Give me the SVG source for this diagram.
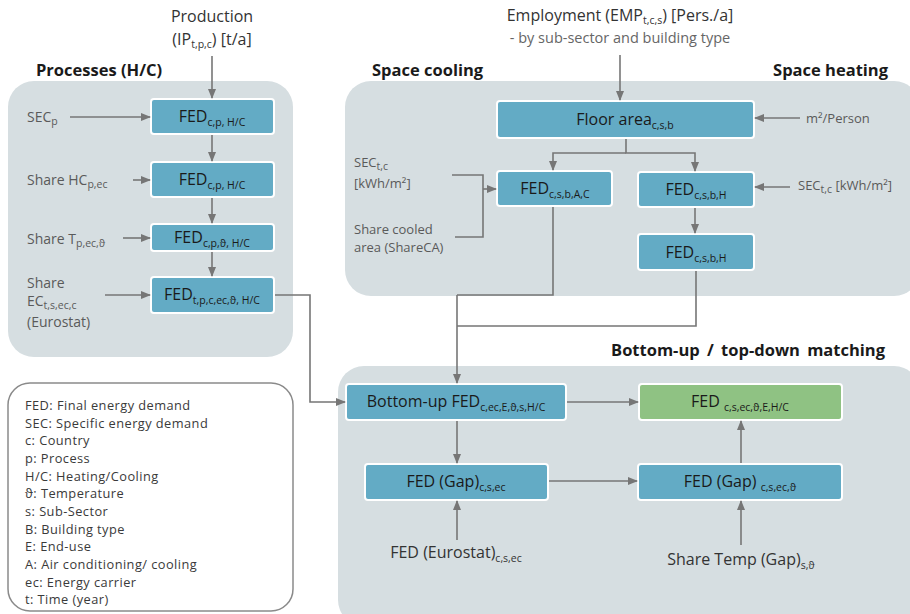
<svg xmlns="http://www.w3.org/2000/svg" width="910" height="614" viewBox="0 0 910 614">
<defs>
<marker id="ah" markerUnits="userSpaceOnUse" markerWidth="10" markerHeight="8" refX="9" refY="4" orient="auto">
<path d="M0,0 L10,4 L0,8 Z" fill="#767676"/>
</marker>
<style>
text{font-family:"Open Sans","Noto Sans","Liberation Sans",sans-serif;}
.panel{fill:#d6dee1;}
.box{fill:#63abc5;stroke:#ffffff;stroke-width:2;}
.green{fill:#8fc283;stroke:#ffffff;stroke-width:2;}
.bt{font-size:16px;fill:#1a1a1a;text-anchor:middle;}
.sub{font-size:10.5px;}
.lbl{font-size:14px;fill:#5a5a5a;}
.top{font-size:16px;fill:#333;text-anchor:middle;}
.head{font-size:16.5px;font-weight:bold;fill:#1a1a1a;}
.leg{font-size:12.8px;letter-spacing:0.45px;fill:#3a3a3a;}
.c{fill:none;stroke:#767676;stroke-width:1.6;}
</style>
</defs>
<rect x="8" y="81" width="285" height="276" rx="26" class="panel"/>
<rect x="345" y="81" width="575" height="215" rx="26" class="panel"/>
<rect x="338" y="366" width="582" height="260" rx="26" class="panel"/>
<rect x="8" y="383" width="285" height="228" rx="22" fill="#ffffff" stroke="#8a8a8a" stroke-width="1.5"/>
<text class="head" x="36" y="76">Processes (H/C)</text>
<text class="head" x="372" y="76">Space cooling</text>
<text class="head" x="888" y="76" text-anchor="end">Space heating</text>
<text class="head" x="885" y="356" text-anchor="end" word-spacing="3">Bottom-up / top-down matching</text>
<g id="production"><text class="top" x="212" y="22">Production</text><text class="top" x="212" y="45">(IP<tspan class="sub" dy="3">t,p,c</tspan><tspan dy="-3">) [t/a]</tspan></text></g>
<g id="employment"><text class="top" x="620" y="21">Employment (EMP<tspan class="sub" dy="3">t,c,s</tspan><tspan dy="-3">) [Pers./a]</tspan></text><text class="top" x="620" y="43" style="font-size:14.5px;fill:#666">- by sub-sector and building type</text></g>
<g id="p1"><rect class="box" x="151" y="99" width="123" height="35" rx="3"/><text class="bt" x="212" y="122">FED<tspan class="sub" dy="4">c,p, H/C</tspan></text></g>
<g id="p2"><rect class="box" x="151" y="162" width="123" height="35" rx="3"/><text class="bt" x="212" y="185">FED<tspan class="sub" dy="4">c,p, H/C</tspan></text></g>
<g id="p3"><rect class="box" x="151" y="224" width="123" height="27" rx="3"/><text class="bt" x="212" y="243">FED<tspan class="sub" dy="4">c,p,ϑ, H/C</tspan></text></g>
<g id="p4"><rect class="box" x="151" y="277" width="123" height="36" rx="3"/><text class="bt" x="212" y="300">FED<tspan class="sub" dy="4">t,p,c,ec,ϑ, H/C</tspan></text></g>
<g id="secp"><text class="lbl" x="27" y="122">SEC<tspan class="sub" dy="3">p</tspan></text></g>
<g id="sharehc"><text class="lbl" x="27" y="185">Share HC<tspan class="sub" dy="3">p,ec</tspan></text></g>
<g id="sharet"><text class="lbl" x="27" y="244">Share T<tspan class="sub" dy="3">p,ec,ϑ</tspan></text></g>
<g id="shareec"><text class="lbl" x="27" y="288">Share</text><text class="lbl" x="27" y="306">EC<tspan class="sub" dy="3">t,s,ec,c</tspan></text><text class="lbl" x="27" y="327">(Eurostat)</text></g>
<g id="floor"><rect class="box" x="497" y="101" width="257" height="37" rx="3"/><text class="bt" x="625" y="125">Floor area<tspan class="sub" dy="4">c,s,b</tspan></text></g>
<g id="m2p"><text class="lbl" x="806" y="123" style="font-size:13px">m²/Person</text></g>
<g id="fedac"><rect class="box" x="497" y="171" width="115" height="35" rx="3"/><text class="bt" x="555" y="194">FED<tspan class="sub" dy="4">c,s,b,A,C</tspan></text></g>
<g id="fedh1"><rect class="box" x="638" y="172" width="116" height="35" rx="3"/><text class="bt" x="696" y="195">FED<tspan class="sub" dy="4">c,s,b,H</tspan></text></g>
<g id="fedh2"><rect class="box" x="638" y="234" width="116" height="36" rx="3"/><text class="bt" x="696" y="258">FED<tspan class="sub" dy="4">c,s,b,H</tspan></text></g>
<g id="secleft"><text class="lbl" x="354" y="167" style="font-size:13px">SEC<tspan class="sub" dy="3">t,c</tspan></text><text class="lbl" x="354" y="188" style="font-size:13px">[kWh/m²]</text></g>
<g id="sharecool"><text class="lbl" x="354" y="234" style="font-size:13px">Share cooled</text><text class="lbl" x="354" y="252" style="font-size:13px">area (ShareCA)</text></g>
<g id="secright"><text class="lbl" x="798" y="190" style="font-size:13px">SEC<tspan class="sub" dy="3">t,c</tspan><tspan dy="-3"> [kWh/m²]</tspan></text></g>
<g id="bottomup"><rect class="box" x="346" y="384" width="220" height="36" rx="3"/><text class="bt" x="456" y="407">Bottom-up FED<tspan class="sub" dy="4">c,ec,E,ϑ,s,H/C</tspan></text></g>
<g id="result"><rect class="green" x="639" y="384" width="203" height="36" rx="3"/><text class="bt" x="740" y="407">FED <tspan class="sub" dy="4">c,s,ec,ϑ,E,H/C</tspan></text></g>
<g id="gap1"><rect class="box" x="365" y="464" width="183" height="36" rx="3"/><text class="bt" x="456" y="487">FED (Gap)<tspan class="sub" dy="4">c,s,ec</tspan></text></g>
<g id="gap2"><rect class="box" x="638" y="464" width="204" height="36" rx="3"/><text class="bt" x="740" y="487">FED (Gap) <tspan class="sub" dy="4">c,s,ec,ϑ</tspan></text></g>
<g id="eurostat"><text class="top" x="456" y="558" style="fill:#333">FED (Eurostat)<tspan class="sub" dy="4">c,s,ec</tspan></text></g>
<g id="sharetemp"><text class="top" x="741" y="565" style="fill:#333">Share Temp (Gap)<tspan class="sub" dy="4">s,ϑ</tspan></text></g>
<g id="legend">
<text class="leg" x="25" y="410">FED: Final energy demand</text>
<text class="leg" x="25" y="428">SEC: Specific energy demand</text>
<text class="leg" x="25" y="445">c: Country</text>
<text class="leg" x="25" y="463">p: Process</text>
<text class="leg" x="25" y="481">H/C: Heating/Cooling</text>
<text class="leg" x="25" y="498">ϑ: Temperature</text>
<text class="leg" x="25" y="516">s: Sub-Sector</text>
<text class="leg" x="25" y="534">B: Building type</text>
<text class="leg" x="25" y="551">E: End-use</text>
<text class="leg" x="25" y="569">A: Air conditioning/ cooling</text>
<text class="leg" x="25" y="587">ec: Energy carrier</text>
<text class="leg" x="25" y="604">t: Time (year)</text>
</g>
<g id="connectors">
<path class="c" d="M212,56 V98" marker-end="url(#ah)"/>
<path class="c" d="M70,117 H150" marker-end="url(#ah)"/>
<path class="c" d="M212,135 V161" marker-end="url(#ah)"/>
<path class="c" d="M133,180 H150" marker-end="url(#ah)"/>
<path class="c" d="M212,198 V223" marker-end="url(#ah)"/>
<path class="c" d="M123,238 H150" marker-end="url(#ah)"/>
<path class="c" d="M212,252 V276" marker-end="url(#ah)"/>
<path class="c" d="M105,295 H150" marker-end="url(#ah)"/>
<path class="c" d="M275,295 H310 V402 H345" marker-end="url(#ah)"/>
<path class="c" d="M620,55 V100" marker-end="url(#ah)"/>
<path class="c" d="M800,118 H755" marker-end="url(#ah)"/>
<path class="c" d="M626,139 V153 H695 V171" marker-end="url(#ah)"/>
<path class="c" d="M626,153 H553 V170" marker-end="url(#ah)"/>
<path class="c" d="M452,175 H483 V237 H455"/>
<path class="c" d="M483,189 H496" marker-end="url(#ah)"/>
<path class="c" d="M790,187 H755" marker-end="url(#ah)"/>
<path class="c" d="M695,208 V233" marker-end="url(#ah)"/>
<path class="c" d="M553,207 V295 H457"/>
<path class="c" d="M696,271 V326 H457"/>
<path class="c" d="M457,295 V383" marker-end="url(#ah)"/>
<path class="c" d="M567,402 H638" marker-end="url(#ah)"/>
<path class="c" d="M457,421 V463" marker-end="url(#ah)"/>
<path class="c" d="M549,481 H637" marker-end="url(#ah)"/>
<path class="c" d="M741,463 V421" marker-end="url(#ah)"/>
<path class="c" d="M457,540 V501" marker-end="url(#ah)"/>
<path class="c" d="M741,545 V501" marker-end="url(#ah)"/>
</g>
</svg>
